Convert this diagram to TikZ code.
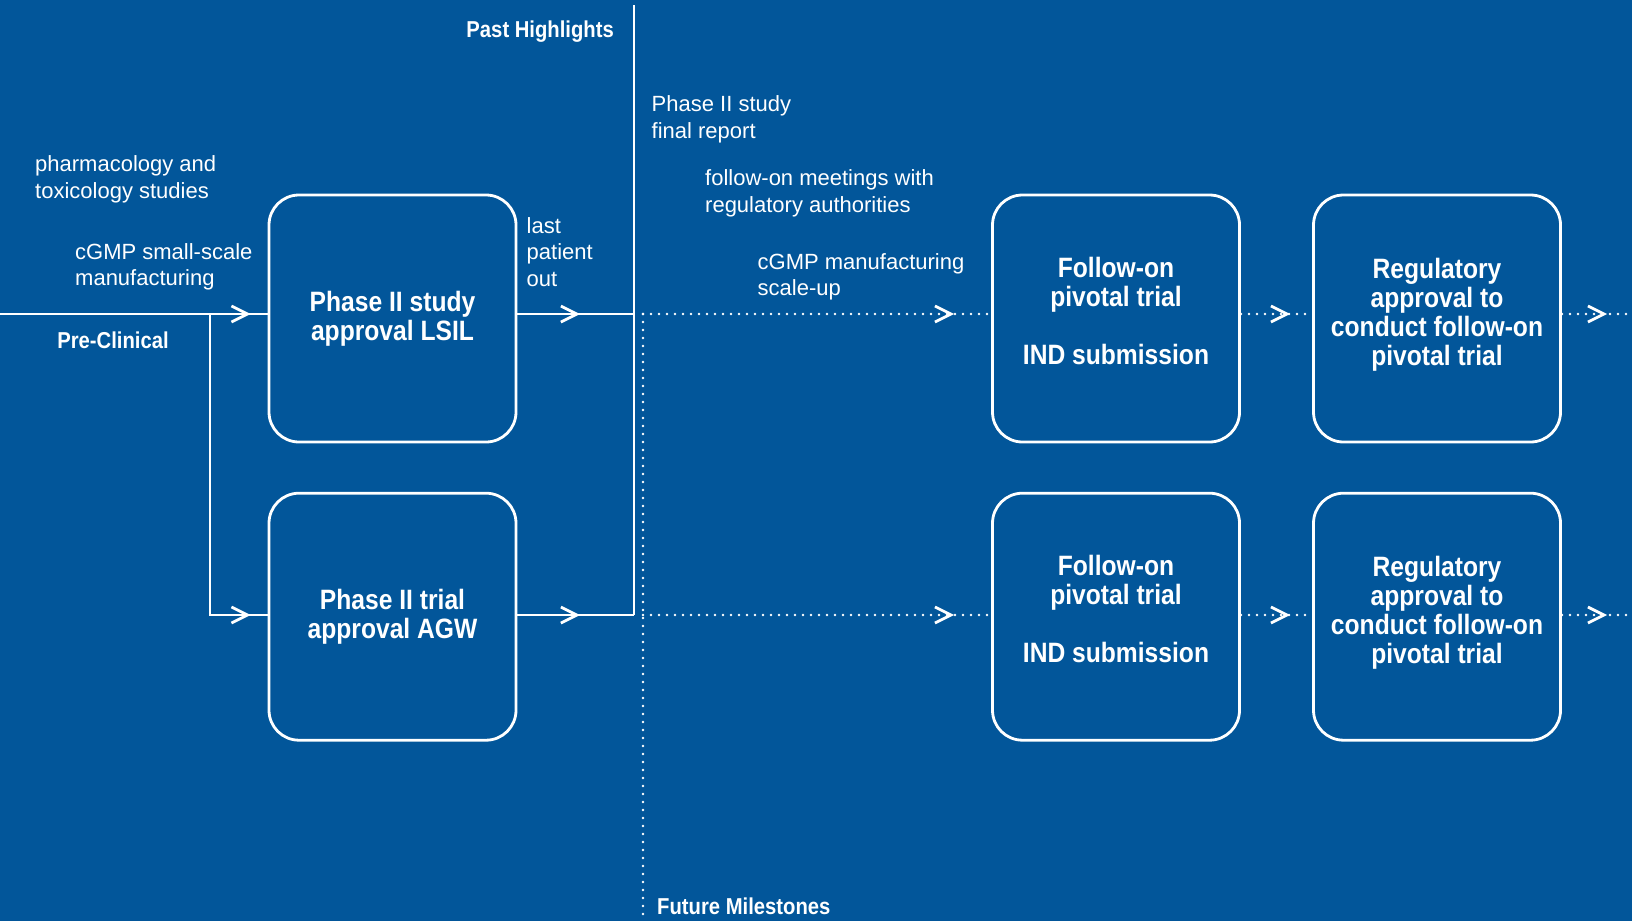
\documentclass[tikz,border=0pt]{standalone}
\usepackage{fontspec}
\setmainfont{Liberation Sans}
\newfontfamily\condfont[FakeStretch=0.88]{Liberation Sans}
\usepackage{xcolor}
\usetikzlibrary{arrows.meta,decorations.markings}
\definecolor{bgblue}{HTML}{02569A}

\begin{document}
\begin{tikzpicture}[x=1pt, y=-1pt,
    every node/.style={text=white, inner sep=0pt},
    stage/.style={draw=white, line width=2.8pt, rounded corners=30pt, minimum width=247pt, minimum height=247pt, align=center, font=\condfont\bfseries\fontsize{28}{29}\selectfont},
    note/.style={anchor=base west, align=left, font=\fontsize{22}{26.5}\selectfont},
    heading/.style={font=\condfont\bfseries\fontsize{23}{26}\selectfont},
    flow/.style={draw=white, line width=2.8pt},
    dots/.style={draw=white, line width=2.8pt, line cap=round, dash pattern=on 0pt off 8pt},
    tipat/.style={postaction={decorate, decoration={markings, mark=at position #1 with {\arrow[line width=2.8pt]{Straight Barb[length=16pt,width=16pt]}}}}}
]
        \useasboundingbox (0,0) rectangle (1632,921);
        \fill[bgblue] (0,0) rectangle (1632,921);

        % Stage boxes
        \node[stage] (lsil) at (392.5,318.5) {Phase II study\\approval LSIL};
        \node[stage] (agw) at (392.5,616.7) {Phase II trial\\approval AGW};
        \node[stage, text depth=15pt] (ind1) at (1116,318.5) {Follow-on\\pivotal trial\\[29pt]IND submission};
        \node[stage, text depth=15pt] (ind2) at (1116,616.7) {Follow-on\\pivotal trial\\[29pt]IND submission};
        \node[stage, text depth=14pt] (reg1) at (1437,318.5) {Regulatory\\approval to\\conduct follow-on\\pivotal trial};
        \node[stage, text depth=14pt] (reg2) at (1437,616.7) {Regulatory\\approval to\\conduct follow-on\\pivotal trial};

        % Headings
        \node[heading, anchor=base east] (past) at (614,37) {Past Highlights};
        \node[heading, anchor=base] (pre) at (113,348) {Pre-Clinical};
        \node[heading, anchor=base west] (future) at (657,914) {Future Milestones};

        % Notes (placed by the baseline of their last line)
        \node[note] (pharm) at (35,198) {pharmacology and\\toxicology studies};
        \node[note] (smallscale) at (75,285.5) {cGMP small-scale\\manufacturing};
        \node[note] (lpo) at (526.5,286) {last\\patient\\out};
        \node[note] (report) at (651.5,138) {Phase II study\\final report};
        \node[note] (meet) at (705,212) {follow-on meetings with\\regulatory authorities};
        \node[note] (scaleup) at (757.5,295.5) {cGMP manufacturing\\scale-up};

        % Anchors for the lines
        \coordinate (start) at (0,314);
        \coordinate (fork) at (210,314);
        \coordinate (divtop) at (634,5);
        \coordinate (futtop) at (643,314);
        \coordinate (futbot) at (643,921);
        \coordinate (end1) at (1632,314);
        \coordinate (end2) at (1632,615);

        % Past: solid lines
        \draw[flow, tipat=-17pt] (start) -- (start -| lsil.west);
        \draw[flow, tipat=-17pt] (fork) |- (agw.west |- end2);
        \draw[flow, tipat=-54pt] (lsil.east |- start) -- (divtop |- start);
        \draw[flow, tipat=-54pt] (agw.east |- end2) -- (divtop |- end2);
        \draw[flow] (divtop) -- (divtop |- end2);

        % Future: dotted lines
        \draw[dots] (futtop) -- (futbot);
        \draw[dots, tipat=-37pt] (futtop) -- (ind1.west |- start);
        \draw[dots, tipat=-37pt] (futtop |- end2) -- (ind2.west |- end2);
        \draw[dots, tipat=-22pt] (ind1.east |- start) -- (reg1.west |- start);
        \draw[dots, tipat=-22pt] (ind2.east |- end2) -- (reg2.west |- end2);
        \draw[dots, tipat=-25pt] (reg1.east |- start) -- (end1);
        \draw[dots, tipat=-25pt] (reg2.east |- end2) -- (end2);
\end{tikzpicture}
\end{document}
